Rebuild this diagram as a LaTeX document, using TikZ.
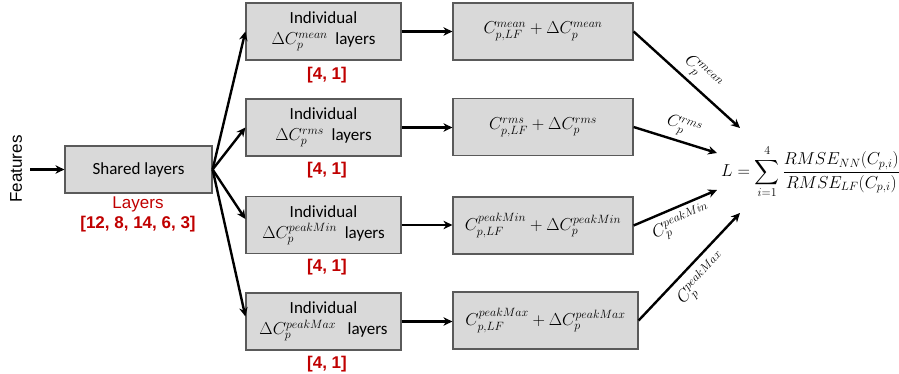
\documentclass[tikz,border=0pt]{standalone}
\usepackage{amsmath}
\usepackage{fontspec}
\setmainfont{Carlito}
\newfontfamily\arialf{Liberation Sans}
\DeclareMathSizes{17}{17}{13}{10}
\usetikzlibrary{arrows.meta,calc}
\definecolor{boxgray}{HTML}{D9D9D9}
\definecolor{boxline}{HTML}{5A5A5A}
\definecolor{darkred}{HTML}{C00000}
\begin{document}
\begin{tikzpicture}[x=1pt,y=-1pt,
  box/.style={draw=boxline,fill=boxgray,line width=1.2pt,inner sep=0pt,align=center,
    font=\fontsize{17}{21}\selectfont},
  lbox/.style={box,minimum width=155pt,minimum height=57pt},
  rbox/.style={box,minimum width=180pt,minimum height=57pt},
  arr/.style={line width=2.4pt,-{Stealth[length=9pt,width=8.5pt]}},
  redlbl/.style={font=\arialf\bfseries\fontsize{17}{20}\selectfont,text=darkred},
  cplbl/.style={font=\fontsize{17}{20}\selectfont,inner sep=4pt}]
\useasboundingbox (0,0) rectangle (899,374);
% input
\node[rotate=90,font=\arialf\fontsize{17}{20}\selectfont,inner sep=0pt] (feat) at (16,169) {Features};
\coordinate (fstart) at (30,169.5);
% shared
\node[box,minimum width=147pt,minimum height=47pt] (sh) at (138.5,169.5) {Shared layers};
\node[font=\arialf\fontsize{17}{20}\selectfont,text=darkred,inner sep=0pt] (lay) at (138,204) {Layers};
\node[redlbl,inner sep=0pt] (laynum) at (138,224) {[12, 8, 14, 6, 3]};
% individual boxes
\node[lbox] (l1) at (323.5,31.5) {Individual\\$\Delta C_p^{mean}$\ \ layers};
\node[lbox] (l2) at (323.5,127.5) {Individual\\$\Delta C_p^{rms}$\ \ layers};
\node[lbox] (l3) at (323.5,225) {Individual\\$\Delta C_p^{peakMin}$\ \ layers};
\node[lbox] (l4) at (323.5,321.5) {Individual\\$\Delta C_p^{peakMax}$\ \ \ layers};
\node[redlbl,inner sep=0pt] (n1) at (327,75) {[4, 1]};
\node[redlbl,inner sep=0pt] (n2) at (327,170) {[4, 1]};
\node[redlbl,inner sep=0pt] (n3) at (327,267) {[4, 1]};
\node[redlbl,inner sep=0pt] (n4) at (327,364) {[4, 1]};
% right boxes
\node[rbox] (r1) at (543,31.5) {$C_{p,LF}^{mean}+\Delta C_p^{mean}$};
\node[rbox] (r2) at (543,127) {$C_{p,LF}^{rms}+\Delta C_p^{rms}$};
\node[rbox] (r3) at (543,225.5) {$C_{p,LF}^{peakMin}+\Delta C_p^{peakMin}$};
\node[rbox,minimum width=185pt] (r4) at (545.5,320.5) {$C_{p,LF}^{peakMax}+\Delta C_p^{peakMax}$};
% loss
\node[anchor=west,font=\fontsize{17}{20}\selectfont,inner sep=0pt] (loss) at (721,172)
  {$\displaystyle L=\sum_{i=1}^{4}\frac{RMSE_{NN}(C_{p,i})}{RMSE_{LF}(C_{p,i})}$};
\coordinate (e1) at (740,128);
\coordinate (e2) at (717,153);
\coordinate (e3) at (717,190);
\coordinate (e4) at (740,213);
% connectors
\draw[arr] (fstart) -- (sh.west);
\draw[arr] (sh.east) -- (l1.west);
\draw[arr] (sh.east) -- (l2.west);
\draw[arr] (sh.east) -- ($(l3.west)+(0,-6)$);
\draw[arr] (sh.east) -- ($(l4.west)+(0,-5)$);
\draw[arr] (l1.east) -- (l1.east -| r1.west);
\draw[arr] (l2.east) -- (l2.east -| r2.west);
\draw[arr] (l3.east) -- (l3.east -| r3.west);
\draw[arr] (l4.east) -- (l4.east -| r4.west);
\draw[arr] (r1.east) -- node[cplbl,sloped,above,pos=0.55] {$C_p^{mean}$} (e1);
\draw[arr] (r2.east) -- node[cplbl,sloped,above,pos=0.55] {$C_p^{rms}$} (e2);
\draw[arr] (r3.east) -- node[cplbl,sloped,below,pos=0.5] {$C_p^{peakMin}$} (e3);
\draw[arr] (r4.east) -- node[cplbl,sloped,below,pos=0.5,inner sep=6pt] {$C_p^{peakMax}$} (e4);
\end{tikzpicture}
\end{document}
